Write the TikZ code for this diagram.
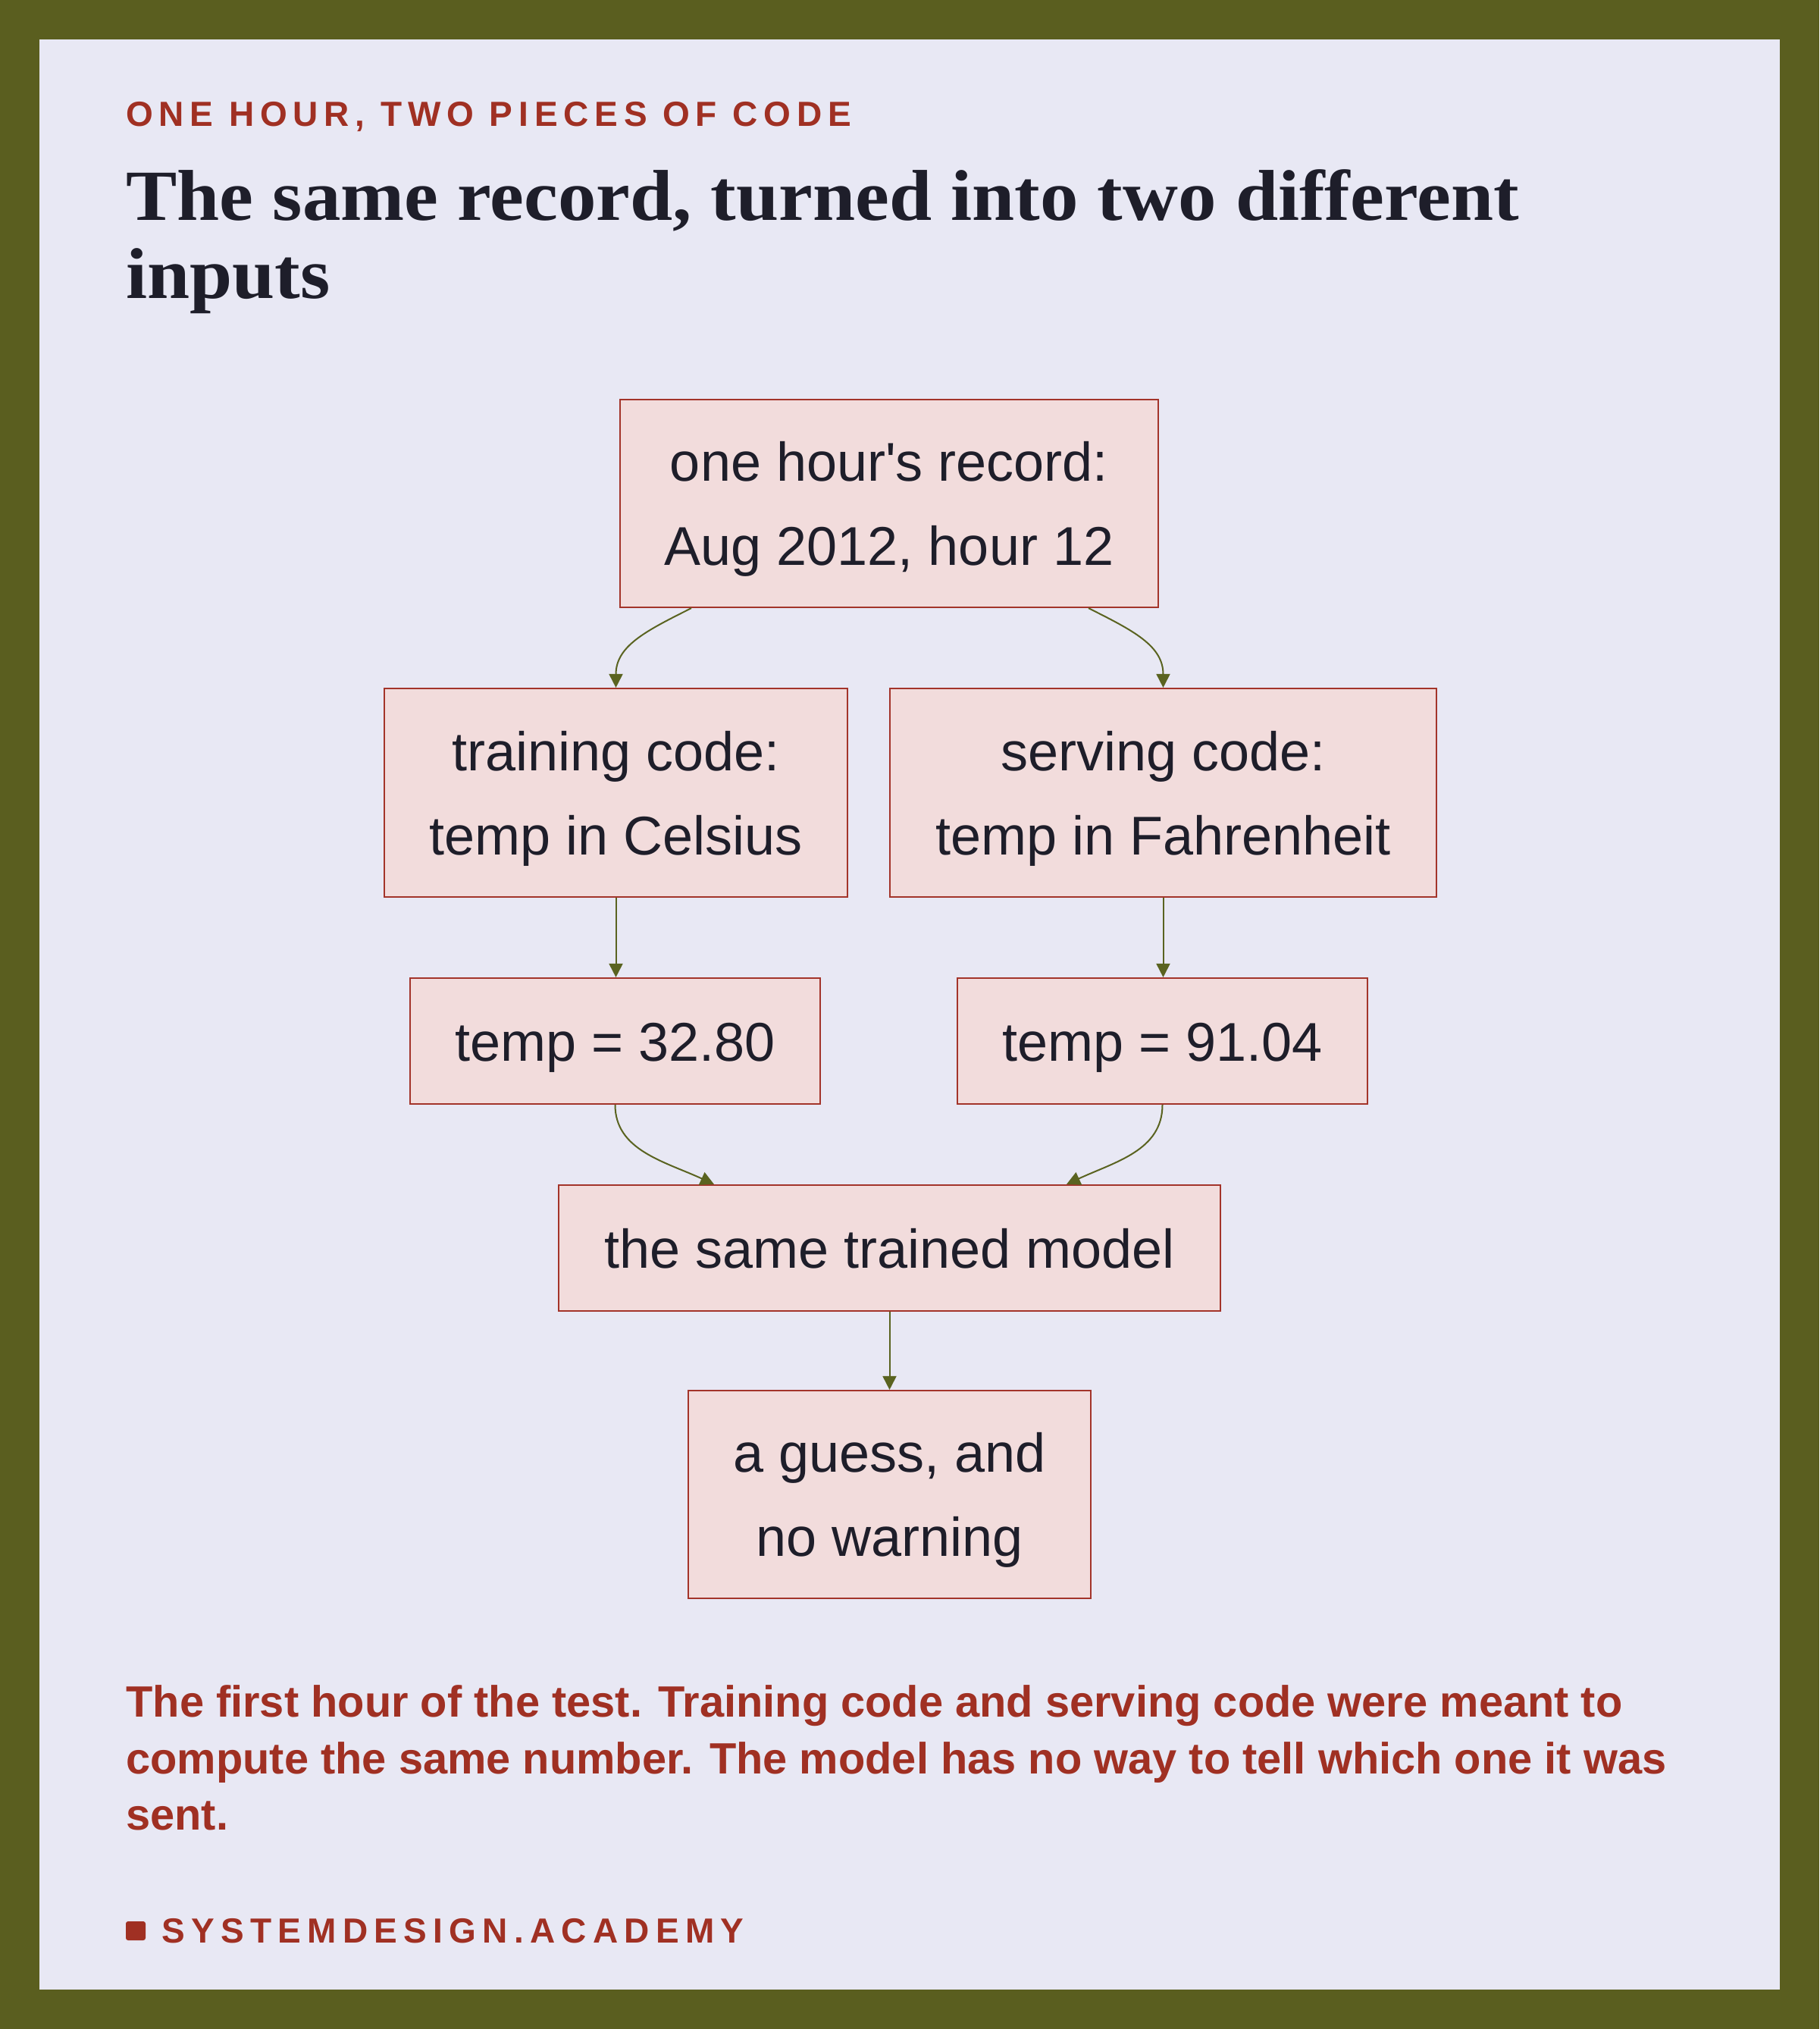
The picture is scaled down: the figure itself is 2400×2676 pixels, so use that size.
\documentclass[tikz,border=0pt]{standalone}
\usepackage{fontspec}
\setmainfont{Liberation Sans}
\newfontfamily\titlefont{Liberation Serif}[FakeStretch=1.062]
\newfontfamily\hdrfont{Liberation Sans}[LetterSpace=17]
\newfontfamily\footfont{Liberation Sans}[LetterSpace=18]
\usetikzlibrary{arrows.meta,calc}
\definecolor{bordercol}{HTML}{5A5E1F}
\definecolor{panelcol}{HTML}{E8E8F4}
\definecolor{boxfill}{HTML}{F2DCDC}
\definecolor{boxline}{HTML}{A3342A}
\definecolor{redtext}{HTML}{A03023}
\definecolor{darktext}{HTML}{1E1E2A}
\definecolor{arrowcol}{HTML}{5A6320}
\newcommand{\bstrut}{\rule[-0.2em]{0pt}{1.14em}}
\begin{document}
\begin{tikzpicture}[x=0.5pt,y=-0.5pt,
  box/.style={draw=boxline, fill=boxfill, line width=1.1pt, inner sep=0pt,
    align=center, text=darktext, font=\fontsize{36}{55.5}\selectfont},
  arr/.style={draw=arrowcol, line width=1pt, -{Triangle[length=9pt,width=9pt]}},
  txt/.style={anchor=base west, inner sep=0pt}
]
\fill[bordercol] (0,0) rectangle (2400,2676);
\fill[panelcol] (52,52) rectangle (2348,2624);
\useasboundingbox (0,0) rectangle (2400,2676);

% header and title
\node[txt, text=redtext, font=\hdrfont\bfseries\fontsize{23}{23}\selectfont] (hdr) at (166,166) {ONE HOUR, TWO PIECES OF CODE};
\node[txt, text=darktext, font=\titlefont\bfseries\fontsize{47.5}{51.5}\selectfont] (title1) at (166,290) {The same record, turned into two different};
\node[txt, text=darktext, font=\titlefont\bfseries\fontsize{47.5}{51.5}\selectfont] (title2) at (166,393) {inputs};

% boxes
\node[box, minimum width=355pt, minimum height=137pt] (top) at (1173,664) {\bstrut one hour\textquotesingle s record:\\\bstrut Aug 2012, hour 12};
\node[box, minimum width=305.5pt, minimum height=137.5pt] (train) at (812.5,1045.5) {\bstrut training code:\\\bstrut temp in Celsius};
\node[box, minimum width=360.5pt, minimum height=137.5pt] (serve) at (1534.5,1045.5) {\bstrut serving code:\\\bstrut temp in Fahrenheit};
\node[box, minimum width=270.5pt, minimum height=83pt] (t1) at (811.5,1373) {\bstrut temp = 32.80};
\node[box, minimum width=270.5pt, minimum height=83pt] (t2) at (1533.5,1373) {\bstrut temp = 91.04};
\node[box, minimum width=436.5pt, minimum height=83pt] (model) at (1173.5,1646) {\bstrut the same trained model};
\node[box, minimum width=265.5pt, minimum height=137pt] (guess) at (1173.5,1971) {\bstrut a guess, and\\\bstrut no warning};

% connectors
\draw[arr] ($(top.south)+(-261,0)$) .. controls +(-60,30) and +(0,-55) .. (train.north);
\draw[arr] ($(top.south)+(263,0)$) .. controls +(60,30) and +(0,-55) .. (serve.north);
\draw[arr] (train.south) -- (train.south |- t1.north);
\draw[arr] (serve.south) -- (serve.south |- t2.north);
\draw[arr] (t1.south) .. controls +(0,60) and +(-65,-30) .. ($(model.north)+(-231.5,0)$);
\draw[arr] (t2.south) .. controls +(0,60) and +(65,-30) .. ($(model.north)+(233.5,0)$);
\draw[arr] (model.south) -- (guess.north);

% caption
\node[txt, text=redtext, font=\bfseries\fontsize{28.9}{37.5}\selectfont] (cap1) at (166,2264) {The first hour of the test. Training code and serving code were meant to};
\node[txt, text=redtext, font=\bfseries\fontsize{28.9}{37.5}\selectfont] (cap2) at (166,2339) {compute the same number. The model has no way to tell which one it was};
\node[txt, text=redtext, font=\bfseries\fontsize{28.9}{37.5}\selectfont] (cap3) at (166,2413) {sent.};

% footer
\fill[redtext, rounded corners=1.5pt] (166,2534) rectangle (192,2559);
\node[txt, text=redtext, font=\footfont\bfseries\fontsize{23}{23}\selectfont] (foot) at (213,2562) {SYSTEMDESIGN.ACADEMY};
\end{tikzpicture}
\end{document}
